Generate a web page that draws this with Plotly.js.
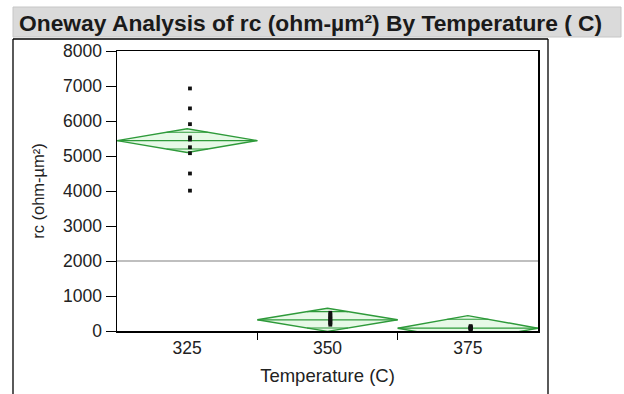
<!DOCTYPE html>
<html>
<head>
<meta charset="utf-8">
<script src="https://cdn.plot.ly/plotly-3.0.1.min.js"></script>
<style>html,body{margin:0;padding:0;background:#fff;}#chart{width:624px;height:394px;}</style>
</head>
<body>
<div id="chart"></div>
<script>
// ---- data ----
const categories = ["325", "350", "375"];
const groupMeans = [5440, 320, 80];
const ciHalf = [340, 330, 360];
const points325 = [6930, 6360, 5910, 5530, 5470, 5250, 5080, 4500, 4010];
const points350 = [520, 470, 420, 380, 340, 300, 260, 220, 180];
const points375 = [140, 120, 100, 90, 80, 70, 60, 40];
const referenceLine = 2000;
const yTickVals = [0, 1000, 2000, 3000, 4000, 5000, 6000, 7000, 8000];

const pointGroups = [points325, points350, points375];
const green = "#2e9a3a";
const traces = [];

categories.forEach((c, i) => {
  const m = groupMeans[i], h = ciHalf[i];
  // diamond
  traces.push({
    x: [i - 0.5, i, i + 0.5, i, i - 0.5],
    y: [m, m + h, m, m - h, m],
    mode: "lines", fill: "toself", fillcolor: "rgba(120,220,120,0.18)",
    line: { color: green, width: 1.4 }, hoverinfo: "skip", showlegend: false
  });
  // mean line
  traces.push({
    x: [i - 0.5, i + 0.5], y: [m, m], mode: "lines",
    line: { color: green, width: 1.3 }, hoverinfo: "skip", showlegend: false
  });
  // overlap marks
  const o = h / Math.SQRT2, w = 0.5 * (1 - 1 / Math.SQRT2);
  [m + o, m - o].forEach(v => traces.push({
    x: [i - w, i + w], y: [v, v], mode: "lines",
    line: { color: green, width: 1.1 }, hoverinfo: "skip", showlegend: false
  }));
  // points
  traces.push({
    x: pointGroups[i].map(() => i + 0.02), y: pointGroups[i], mode: "markers",
    marker: { symbol: "square", size: 3.8, color: "#111" },
    cliponaxis: true, showlegend: false
  });
});

// reference line
traces.push({
  x: [-0.5, 2.5], y: [referenceLine, referenceLine], mode: "lines",
  line: { color: "#808080", width: 1.2 }, hoverinfo: "skip", showlegend: false
});

// pixel helpers for decorative frame
const L = 117, R = 538, T = 51, B = 331;
const px = x => (x - L) / (R - L);
const py = y => (B - y) / (B - T);

const layout = {
  width: 624, height: 394,
  margin: { l: L, r: 624 - R, t: T, b: 394 - B },
  paper_bgcolor: "#fff", plot_bgcolor: "#fff",
  font: { family: "Liberation Sans, Arial, sans-serif", color: "#222", size: 17 },
  title: {
    text: "Oneway Analysis of rc (ohm-µm²) By Temperature ( C)",
    font: { family: "Liberation Sans, Arial, sans-serif", size: 22.8, color: "#1a1a1a", weight: "bold" },
    xref: "container", yref: "container", x: 19 / 624, xanchor: "left",
    y: 1 - 23 / 394, yanchor: "middle"
  },
  xaxis: {
    range: [-0.5, 2.5], tickmode: "array", tickvals: [0, 1, 2], ticktext: categories,
    ticks: "", showgrid: false, zeroline: false,
    showline: true, linecolor: "#000", linewidth: 1.5, mirror: true,
    minor: { tickmode: "array", tickvals: [0.5, 1.5], ticks: "outside", ticklen: 7, tickcolor: "#000", tickwidth: 1, showgrid: false },
    tickfont: { size: 17.5 },
    title: { text: "Temperature (C)", font: { size: 18.5 }, standoff: 12 },
    fixedrange: true
  },
  yaxis: {
    range: [0, 8000], tickmode: "array", tickvals: yTickVals,
    ticks: "outside", ticklen: 10, tickcolor: "#000", tickwidth: 1,
    showgrid: false, zeroline: false,
    showline: true, linecolor: "#000", linewidth: 1.5, mirror: true,
    tickfont: { size: 17.5 },
    title: { text: "rc (ohm-µm²)", font: { size: 16.5 }, standoff: 14 },
    fixedrange: true
  },
  shapes: [
    { type: "rect", xref: "paper", yref: "paper", x0: px(13), x1: px(621), y0: py(37), y1: py(7),
      fillcolor: "#dadada", line: { color: "#c6c6c6", width: 1 }, layer: "below" },
    { type: "line", xref: "paper", yref: "paper", x0: px(13), x1: px(548), y0: py(39), y1: py(39), line: { color: "#000", width: 1.3 } },
    { type: "line", xref: "paper", yref: "paper", x0: px(13), x1: px(13), y0: py(39), y1: py(394), line: { color: "#000", width: 1.3 } },
    { type: "line", xref: "paper", yref: "paper", x0: px(548), x1: px(548), y0: py(39), y1: py(394), line: { color: "#000", width: 1.3 } }
  ]
};

Plotly.newPlot("chart", traces, layout, { staticPlot: true, displayModeBar: false });
</script>
</body>
</html>
